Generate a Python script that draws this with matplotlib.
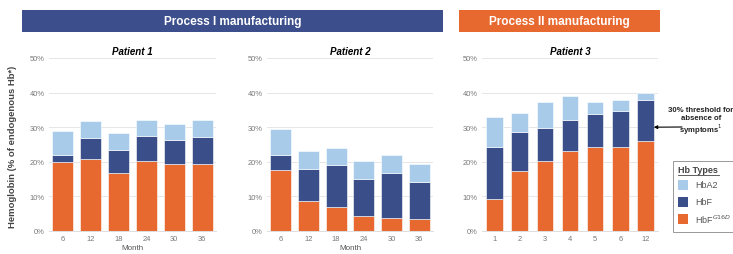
import matplotlib.pyplot as plt
from matplotlib.patches import Rectangle
from matplotlib.ticker import PercentFormatter

plt.rcParams['font.family'] = ['Liberation Sans', 'DejaVu Sans']

# Data (% of endogenous Hb)
p1_months = ["6", "12", "18", "24", "30", "36"]
p1_hbf_g16d = [19.8, 20.9, 16.8, 20.2, 19.5, 19.3]
p1_hbf = [2.1, 6.0, 6.6, 7.2, 6.8, 7.9]
p1_hba2 = [7.0, 4.9, 4.9, 4.6, 4.7, 4.8]

p2_months = ["6", "12", "18", "24", "30", "36"]
p2_hbf_g16d = [17.6, 8.7, 6.8, 4.3, 3.9, 3.4]
p2_hbf = [4.5, 9.3, 12.2, 10.7, 13.0, 10.9]
p2_hba2 = [7.5, 5.2, 5.0, 5.2, 5.0, 5.2]

p3_months = ["1", "2", "3", "4", "5", "6", "12"]
p3_hbf_g16d = [9.3, 17.4, 20.3, 23.0, 24.4, 24.4, 25.9]
p3_hbf = [15.1, 11.2, 9.6, 9.2, 9.3, 10.4, 12.1]
p3_hba2 = [8.6, 5.5, 7.3, 6.7, 3.5, 3.1, 2.0]

yticks = [0, 10, 20, 30, 40, 50]
series_names = ["HbA2", "HbF", "HbF$^{G16D}$"]

C_ORANGE = "#E8692F"
C_DARK = "#3A4F8A"
C_LIGHT = "#A9CBEA"
C_BANNER_BLUE = "#3C4F8C"

W, H = 733, 255
fig = plt.figure(figsize=(W / 100, H / 100), dpi=100)
fig.patch.set_facecolor("white")


def px_axes(x0, y_top, x1, y_bot):
    return fig.add_axes([x0 / W, 1 - y_bot / H, (x1 - x0) / W, (y_bot - y_top) / H])


def draw_panel(ax, cats, g16d, hbf, hba2, title, width, xlabel):
    x = list(range(len(cats)))
    ax.bar(x, g16d, width=width, color=C_ORANGE, edgecolor="white", linewidth=0.4, zorder=3)
    ax.bar(x, hbf, width=width, bottom=g16d, color=C_DARK, edgecolor="white", linewidth=0.4, zorder=3)
    bot2 = [a + b for a, b in zip(g16d, hbf)]
    ax.bar(x, hba2, width=width, bottom=bot2, color=C_LIGHT, edgecolor="white", linewidth=0.4, zorder=3)
    ax.set_xlim(-0.5, len(cats) - 0.5)
    ax.set_ylim(0, 50)
    ax.set_yticks(yticks)
    ax.yaxis.set_major_formatter(PercentFormatter(decimals=0))
    ax.set_xticks(x)
    ax.set_xticklabels(cats)
    ax.tick_params(axis="both", length=0, labelsize=5.4, colors="#777777", pad=3)
    ax.grid(axis="y", color="#E6E6E6", linewidth=0.7, zorder=0)
    for s in ["top", "right", "left"]:
        ax.spines[s].set_visible(False)
    ax.spines["bottom"].set_color("#DDDDDD")
    ax.spines["bottom"].set_linewidth(0.7)
    ax.set_title(title, fontsize=7, fontweight="bold", style="italic", pad=3)
    if xlabel:
        ax.set_xlabel(xlabel, fontsize=5.8, color="#555555", labelpad=1)


ax1 = px_axes(49, 59, 216, 232)
draw_panel(ax1, p1_months, p1_hbf_g16d, p1_hbf, p1_hba2, "Patient 1", 0.75, "Month")
ax2 = px_axes(267, 59, 433, 232)
draw_panel(ax2, p2_months, p2_hbf_g16d, p2_hbf, p2_hba2, "Patient 2", 0.75, "Month")
ax3 = px_axes(482, 59, 658, 232)
draw_panel(ax3, p3_months, p3_hbf_g16d, p3_hbf, p3_hba2, "Patient 3", 0.66, None)

# Y label
fig.text(13 / W, 1 - 147 / H, "Hemoglobin (% of endogenous Hb*)", rotation=90,
         ha="center", va="center", fontsize=6.8, fontweight="bold", color="#444444")

# Banners
fig.patches.append(Rectangle((22 / W, 1 - 33 / H), (443 - 22) / W, 22 / H,
                             transform=fig.transFigure, facecolor=C_BANNER_BLUE,
                             edgecolor="none"))
fig.text((22 + 443) / 2 / W, 1 - 22 / H, "Process I manufacturing", ha="center", va="center",
         color="white", fontsize=8.5, fontweight="bold")
fig.patches.append(Rectangle((459 / W, 1 - 33 / H), (660 - 459) / W, 22 / H,
                             transform=fig.transFigure, facecolor=C_ORANGE,
                             edgecolor="none"))
fig.text((459 + 660) / 2 / W, 1 - 22 / H, "Process II manufacturing", ha="center", va="center",
         color="white", fontsize=8.5, fontweight="bold")

# Threshold annotation
fig.text(701 / W, 1 - 122 / H, "30% threshold for\nabsence of\nsymptoms$^{1}$", ha="center",
         va="center", fontsize=5.6, fontweight="bold", color="#222222", linespacing=1.1)
ax3.annotate("", xy=(6.33, 30), xycoords="data",
             xytext=(682 / W, 1 - 128 / H), textcoords="figure fraction",
             arrowprops=dict(arrowstyle="-|>", color="black", lw=0.8,
                             mutation_scale=5, shrinkA=0, shrinkB=0),
             annotation_clip=False)

# Legend box
lx0, ly0, lx1, ly1 = 673, 162, 736, 233
fig.patches.append(Rectangle((lx0 / W, 1 - ly1 / H), (lx1 - lx0) / W, (ly1 - ly0) / H,
                             transform=fig.transFigure, facecolor="white",
                             edgecolor="#888888", linewidth=0.6))
fig.text(678 / W, 1 - 171 / H, "Hb Types", ha="left", va="center", fontsize=6.5,
         fontweight="bold", color="#444444")
fig.lines.append(plt.Line2D([678 / W, 719 / W], [1 - 176 / H, 1 - 176 / H],
                            transform=fig.transFigure, color="#444444", lw=0.6))
leg_colors = [C_LIGHT, C_DARK, C_ORANGE]
leg_y = [186, 203, 220]
for c, y, name in zip(leg_colors, leg_y, series_names):
    fig.patches.append(Rectangle((678 / W, 1 - (y + 5) / H), 10 / W, 10 / H,
                                 transform=fig.transFigure, facecolor=c, edgecolor="none"))
    fig.text(695 / W, 1 - y / H, name, ha="left", va="center", fontsize=6.5, color="#555555")

fig.savefig("out.png", dpi=100)
